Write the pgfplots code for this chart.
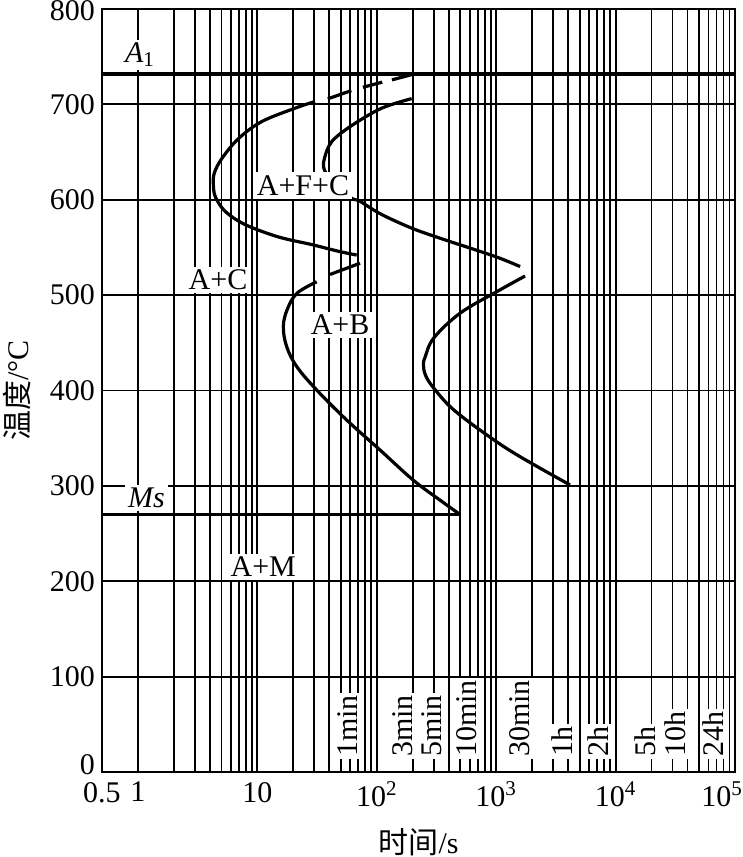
\documentclass[border=0pt]{standalone}
\usepackage{pgfplots}
\pgfplotsset{compat=1.18}
\usepackage{fontspec}
\setmainfont{Liberation Serif}
\newfontfamily\cjk{Noto Sans CJK SC}
\usetikzlibrary{calc}
\begin{document}
\begin{tikzpicture}[font=\fontsize{15}{17}\selectfont]
\begin{axis}[
  scale only axis, width=316.5pt, height=381.5pt,
  xmode=log, xmin=0.5, xmax=1e5, ymin=0, ymax=800,
  xtick={0.5,1,10,100,1000,10000,100000},
  xticklabels={0.5,1,10,10\textsuperscript{2},10\textsuperscript{3},10\textsuperscript{4},\makebox[0pt]{10\textsuperscript{5}\hspace*{13pt}}},
  minor xtick={2,3,4,5,6,7,8,9,20,30,40,50,60,70,80,90,200,300,400,500,600,700,800,900,2000,3000,4000,5000,6000,7000,8000,9000,20000,30000,40000,50000,60000,70000,80000,90000},
  ytick={0,100,200,300,400,500,600,700,800},
  yticklabels={\smash{\raisebox{-1pt}{0}},100,200,300,400,500,600,700,\smash{\raisebox{-6pt}{800}}},
  xticklabel style={yshift=-1.5pt},
  xmajorgrids, xminorgrids, ymajorgrids,
  grid style={black, line width=0.9pt},
  minor grid style={black, line width=0.9pt},
  major tick length=0pt, minor tick length=0pt,
  axis line style={line width=1pt},
  xlabel={{\cjk 时间}/s},
  ylabel={{\cjk 温度}/°C},
  xlabel style={at={(axis description cs:0.5,-0.0917)}, anchor=center},
  ylabel style={at={(axis description cs:-0.1343,0.5)}, anchor=center},
]
% A1 and Ms lines
\addplot[black, line width=1.7pt] coordinates {(0.5,732) (100000,732)};
\addplot[black, line width=1.7pt] coordinates {(0.5,270) (498,270)};
% curve 1 (pearlite start) solid part
\addplot[black, line width=1.6pt, smooth, tension=0.55] coordinates {
 (30.4,703) (20.7,696) (10.9,682) (6.93,664) (5.03,643) (4.36,628) (4.28,616) (4.45,603)
 (5.36,588) (7.88,574) (15.0,561) (28.5,553) (47.6,546) (67.9,542)};
% curve 1 dashed part
\addplot[black, line width=1.6pt, smooth, tension=0.5,
  dash pattern=on 0pt off 6.5pt on 12.5pt off 6pt on 10pt off 5pt on 12pt off 3pt] coordinates {
 (30.4,703) (39.1,706) (63.3,715) (79.8,718.5) (117,724) (142,726.5) (222,733)};
% curve 2 (pearlite finish)
\addplot[black, line width=1.6pt, smooth, tension=0.55] coordinates {
 (196,706) (110,696) (62,678) (42,661) (36.4,643) (36.5,631) (45,615) (61.7,601.5)
 (72,598.5) (108,585) (198,570) (361,558.5) (688,547) (1077,538.6) (1585,530)};
% curve 3 (bainite start) dashed top
\addplot[black, line width=1.6pt, dash pattern=on 16pt off 20pt] coordinates {
 (72.4,533.4) (39.3,521) (31.4,514)};
% curve 3 solid
\addplot[black, line width=1.6pt, smooth, tension=0.6] coordinates {
 (31.4,514) (21.5,502) (17.8,485) (16.5,467) (17.6,446) (21.4,425) (31.4,400.5)
 (56,369) (106.5,337.6) (202,306) (339,285) (498,270)};
% curve 4 (bainite finish)
\addplot[black, line width=1.6pt, smooth, tension=0.6] coordinates {
 (1745,520) (1011,503.6) (498,481) (300,455) (254,435) (246,427) (256,416) (298,403)
 (438,380) (889,351) (1585,330.6) (4150,301)};
% region labels
\node[fill=white, inner sep=1.5pt] at (axis cs:1.04,752) {\textit{A}\textsubscript{1}};
\node[fill=white, inner sep=1.5pt] at (axis cs:1.18,287) {\textit{Ms}};
\node[fill=white, inner sep=1.5pt] at (axis cs:24.1,615) {A+F+C};
\node[fill=white, inner sep=1.5pt] at (axis cs:4.68,516) {A+C};
\node[fill=white, inner sep=1.5pt] at (axis cs:49.3,469) {A+B};
\node[fill=white, inner sep=1.5pt] at (axis cs:11.2,215) {A+M};
% time marks
\foreach \t/\lab in {57/1min,166/3min,288/5min,567/10min,1585/30min,3540/1h,7180/2h,17650/5h,31500/10h,65900/24h}{
  \edef\temp{\noexpand\node[rotate=90, anchor=west, fill=white, inner sep=1.2pt] at (axis cs:\t,13) {\lab};}
  \temp
}
\end{axis}
\coordinate (bbA) at ($(current axis.south west)+(-51pt,-42.5pt)$);
\coordinate (bbB) at ($(current axis.north east)+(3.5pt,4.5pt)$);
\pgfresetboundingbox
\path (bbA) rectangle (bbB);
\end{tikzpicture}
\end{document}
